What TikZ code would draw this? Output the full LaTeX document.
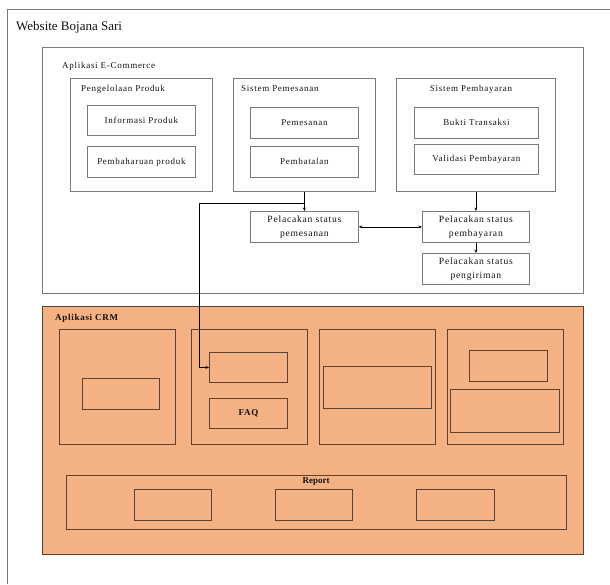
\documentclass[tikz,border=0pt]{standalone}
\usepackage{fontspec}
\setmainfont{Liberation Serif}
\newfontfamily\lsf[LetterSpace=8]{Liberation Serif}
\usetikzlibrary{arrows.meta}
\definecolor{crmfill}{HTML}{F4B183}
\definecolor{crmline}{HTML}{5E4130}
\definecolor{ecline}{HTML}{7A7A7A}
\definecolor{txt}{HTML}{111111}
\newcommand\rbox[7]{\node[#1, anchor=north west, minimum width={#4-#2}, minimum height={#5-#3}] (#6) at (#2,#3) {#7};}
\tikzset{
  ecbox/.style={draw=ecline, line width=0.8pt, inner sep=0pt, align=center, text=txt, font=\lsf\fontsize{9}{12.5}\selectfont},
  pelbox/.style={ecbox, font=\lsf\fontsize{9.6}{14}\selectfont},
  crmbox/.style={draw=crmline, line width=0.8pt, fill=crmfill, inner sep=0pt},
  lbl/.style={inner sep=0pt, text=txt, font=\lsf\fontsize{9}{11}\selectfont},
  arr/.style={draw=black, line width=0.7pt, -{Stealth[length=3.5pt,width=3pt]}},
  darr/.style={draw=black, line width=0.7pt, {Stealth[length=3.5pt,width=3pt]}-{Stealth[length=3.5pt,width=3pt]}},
}
\begin{document}
\begin{tikzpicture}[x=1pt,y=-1pt]
\useasboundingbox (0,0) rectangle (610,584);
% outer frame
\coordinate (oa) at (7,584);
\coordinate (ob) at (7,9);
\coordinate (oc) at (610,9);
\draw[ecline, line width=0.8pt] (oa) -- (ob) -- (oc);
\node[anchor=west, inner sep=0pt, text=txt, font=\fontsize{13}{15}\selectfont] (title) at (16,27) {Website Bojana Sari};

% E-Commerce
\rbox{ecbox}{42}{47}{583}{293}{ec}{}
\node[lbl, anchor=west] (eclbl) at (62,66) {Aplikasi E-Commerce};

\rbox{ecbox}{70}{78}{212}{191}{pp}{}
\node[lbl, anchor=west] (pplbl) at (81,89) {Pengelolaan Produk};
\rbox{ecbox}{87}{105}{195}{135}{info}{Informasi Produk}
\rbox{ecbox}{87}{146}{195}{177}{pemb}{Pembaharuan produk}

\rbox{ecbox}{233}{78}{375}{191}{spem}{}
\node[lbl, anchor=west] (spemlbl) at (241,89) {Sistem Pemesanan};
\rbox{ecbox}{250}{107}{358}{138}{pes}{Pemesanan}
\rbox{ecbox}{250}{146}{358}{177}{bat}{Pembatalan}

\rbox{ecbox}{396}{78}{555}{191}{spay}{}
\node[lbl] (spaylbl) at (471,89) {Sistem Pembayaran};
\rbox{ecbox}{414}{107}{538}{138}{bukti}{Bukti Transaksi}
\rbox{ecbox}{414}{144}{538}{174}{valid}{Validasi Pembayaran}

\rbox{pelbox}{250}{211}{358}{242}{ps1}{Pelacakan status\\pemesanan}
\rbox{pelbox}{422}{211}{529}{242}{ps2}{Pelacakan status\\pembayaran}
\rbox{pelbox}{422}{253}{529}{284}{ps3}{Pelacakan status\\pengiriman}

% CRM
\rbox{crmbox}{42}{306}{583}{554}{crm}{}
\node[lbl, anchor=west, font=\lsf\bfseries\fontsize{9}{11}\selectfont] (crmlbl) at (55,318) {Aplikasi CRM};
\rbox{crmbox}{59}{329}{175}{444}{c1}{}
\rbox{crmbox}{82}{378}{159}{409}{c1a}{}
\rbox{crmbox}{191}{329}{307}{444}{c2}{}
\rbox{crmbox}{209}{352}{287}{382}{c2a}{}
\rbox{crmbox}{209}{398}{287}{428}{faq}{}
\node[lbl, font=\lsf\bfseries\fontsize{9}{11}\selectfont] (faqlbl) at (faq.center) {FAQ};
\rbox{crmbox}{319}{329}{435}{444}{c3}{}
\rbox{crmbox}{323}{366}{431}{408}{c3a}{}
\rbox{crmbox}{447}{329}{563}{444}{c4}{}
\rbox{crmbox}{469}{350}{547}{381}{c4a}{}
\rbox{crmbox}{450}{389}{559}{432}{c4b}{}
\rbox{crmbox}{66}{475}{566}{529}{rep}{}
\node[lbl, font=\bfseries\fontsize{9}{11}\selectfont] (replbl) at (316,482) {Report};
\rbox{crmbox}{134}{489}{211}{520}{r1}{}
\rbox{crmbox}{275}{489}{352}{520}{r2}{}
\rbox{crmbox}{416}{489}{494}{520}{r3}{}

% connectors
\draw[arr] (spem.south) -- (ps1.north);
\coordinate (j) at (304,203);
\coordinate (k) at (199,203);
\draw[arr] (j) -- (k) |- (c2a.west);
\draw[darr] (ps1.east) -- (ps2.west);
\draw[arr] (spay.south) -- (ps2.north);
\draw[arr] (ps2.south) -- (ps3.north);
\end{tikzpicture}
\end{document}
